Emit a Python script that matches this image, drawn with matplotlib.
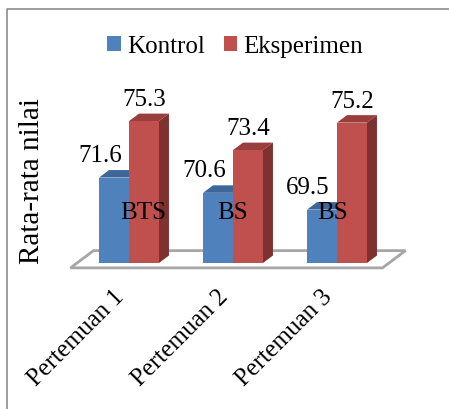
import matplotlib
matplotlib.use("Agg")
import matplotlib.pyplot as plt
from matplotlib.patches import Polygon, Patch
from matplotlib.lines import Line2D

# ---- data ----
categories = ["Pertemuan 1", "Pertemuan 2", "Pertemuan 3"]
series_names = ["Kontrol", "Eksperimen"]
kontrol = [71.6, 70.6, 69.5]
eksperimen = [75.3, 73.4, 75.2]
notes = ["BTS", "BS", "BS"]
y_label = "Rata-rata nilai"

# ---- style ----
SERIF = ["Liberation Serif", "DejaVu Serif"]
plt.rcParams["font.family"] = SERIF
FS = 18
colors = {
    "Kontrol": ("#4F81BD", "#3D6798", "#34577F"),      # front, top, side
    "Eksperimen": ("#C0504D", "#993E3B", "#7E312F"),
}

W, H, DPI = 449, 410, 100
fig = plt.figure(figsize=(W / DPI, H / DPI), dpi=DPI)
fig.patch.set_facecolor("white")

# plot region: category slots at bar-front depth, value axis from 66 to 80
left_px, right_px = 77, 389
base_px, top_px = 264, 50.4
ax = fig.add_axes([left_px / W, 1 - base_px / H,
                   (right_px - left_px) / W, (base_px - top_px) / H])
ymin, ymax = 66, 80
ax.set_xlim(-0.5, 2.5)
ax.set_ylim(ymin, ymax)
ax.axis("off")

# depth vector of the 3-D bars (in data units) and floor margin around it
px_x = 3.0 / (right_px - left_px)
px_y = (ymax - ymin) / (base_px - top_px)
dx, dy = 10 * px_x, 7.5 * px_y
gx, gy = 0.65 * dx, 0.65 * dy
bw = 0.288

# floor
floor = Polygon([(-0.5 - gx, ymin - gy), (2.5 - gx, ymin - gy),
                 (2.5 + dx + gx, ymin + dy + gy), (-0.5 + dx + gx, ymin + dy + gy)],
                closed=True, facecolor="white", edgecolor="#A6A6A6",
                linewidth=2.0, zorder=1, clip_on=False)
ax.add_patch(floor)


def bar3d(x0, v, name, z):
    front, top, side = colors[name]
    ax.bar(x0, v - ymin, width=bw, bottom=ymin, align="edge",
           color=front, linewidth=0, zorder=z + 0.2, clip_on=False)
    ax.add_patch(Polygon([(x0, v), (x0 + bw, v), (x0 + bw + dx, v + dy),
                          (x0 + dx, v + dy)], closed=True, facecolor=top,
                         linewidth=0, zorder=z, clip_on=False))
    ax.add_patch(Polygon([(x0 + bw, ymin), (x0 + bw, v), (x0 + bw + dx, v + dy),
                          (x0 + bw + dx, ymin + dy)], closed=True, facecolor=side,
                         linewidth=0, zorder=z, clip_on=False))


for i in range(len(categories)):
    bar3d(i - bw, kontrol[i], "Kontrol", 2)
    bar3d(i, eksperimen[i], "Eksperimen", 3)
    ax.text(i - bw / 2 - 14 * px_x, kontrol[i] + 17 * px_y, f"{kontrol[i]}",
            ha="center", va="baseline", fontsize=FS, zorder=6)
    ax.text(i + bw / 2, eksperimen[i] + 16 * px_y, f"{eksperimen[i]}",
            ha="center", va="baseline", fontsize=FS, zorder=6)

# notes written on the bars
note_x = [0.14, 1.0, 1.96]
for i, t in enumerate(notes):
    ax.text(note_x[i], ymin + 45 * px_y, t, ha="center", va="baseline",
            fontsize=FS, zorder=7)

# category labels, rotated 45 degrees
for i, c in enumerate(categories):
    ax.text(i - 8 * px_x, ymin - 30 * px_y, c, rotation=45, rotation_mode="anchor",
            ha="right", va="center", fontsize=FS, clip_on=False)

# value-axis title
fig.text(32 / W, 1 - 181 / H, y_label, rotation=90, ha="center", va="center",
         fontsize=21)

# legend
handles = [Patch(facecolor=colors[n][0], edgecolor="none") for n in series_names]
fig.legend(handles, series_names, loc="center", bbox_to_anchor=(235 / W, 1 - 47 / H),
           ncol=2, frameon=False, fontsize=FS, handlelength=0.55, handleheight=0.55,
           handletextpad=0.25, columnspacing=0.75, borderpad=0, borderaxespad=0)

# chart frame (left and top edges)
fig.add_artist(Line2D([7 / W, 7 / W, 1.0], [0.0, 1 - 10 / H, 1 - 10 / H],
                      transform=fig.transFigure, color="#8C8C8C", linewidth=1.2))

fig.savefig("out.png", dpi=DPI, facecolor="white")
